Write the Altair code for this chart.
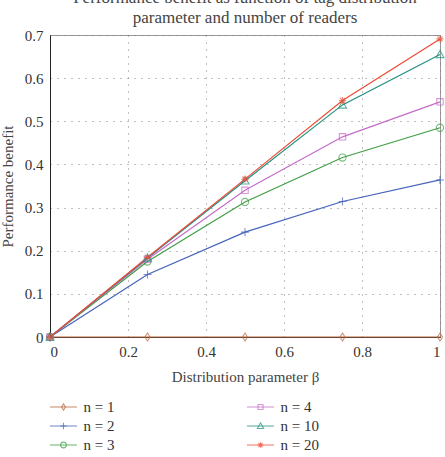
import altair as alt
import pandas as pd

# Distribution parameter values and performance benefit per number of readers
beta = [0.0, 0.25, 0.5, 0.75, 1.0]
benefit_n1 = [0.0, 0.0, 0.0, 0.0, 0.0]
benefit_n2 = [0.0, 0.145, 0.243, 0.314, 0.364]
benefit_n3 = [0.0, 0.175, 0.313, 0.416, 0.485]
benefit_n4 = [0.0, 0.180, 0.340, 0.464, 0.545]
benefit_n10 = [0.0, 0.183, 0.362, 0.538, 0.655]
benefit_n20 = [0.0, 0.185, 0.366, 0.548, 0.691]

series_labels = ["n = 1", "n = 2", "n = 3", "n = 4", "n = 10", "n = 20"]
series_values = [benefit_n1, benefit_n2, benefit_n3, benefit_n4, benefit_n10, benefit_n20]
x_ticks = [0, 0.2, 0.4, 0.6, 0.8, 1.0]
y_ticks = [0, 0.1, 0.2, 0.3, 0.4, 0.5, 0.6, 0.7]

rows = []
for label, values in zip(series_labels, series_values):
    for b, v in zip(beta, values):
        rows.append({"beta": b, "benefit": v, "series": label})
df = pd.DataFrame(rows)

# legend entries: three per column
legend_df = pd.DataFrame({
    "series": series_labels,
    "col": [i // 3 for i in range(len(series_labels))],
    "row": [i % 3 for i in range(len(series_labels))],
})

colors = ["#b8693f", "#4463bd", "#3f9e45", "#c46cc8", "#22907f", "#ee4a36"]

# marker outlines in unit coordinates
diamond = "M0,-1L0.62,0L0,1L-0.62,0Z"
plus = "M-1,0L1,0M0,-1L0,1"
circle = "M-0.9,0A0.9,0.9 0 1,0 0.9,0A0.9,0.9 0 1,0 -0.9,0Z"
square = "M-0.8,-0.8H0.8V0.8H-0.8Z"
triangle = "M0,-1L1,0.8H-1Z"
star = "M-0.9,0H0.9M0,-0.9V0.9M-0.65,-0.65L0.65,0.65M-0.65,0.65L0.65,-0.65"
markers = [diamond, plus, circle, square, triangle, star]

FONT = "Liberation Serif, DejaVu Serif, serif"

color_scale = alt.Scale(domain=series_labels, range=colors)
shape_scale = alt.Scale(domain=series_labels, range=markers)

lines = alt.Chart(df).mark_line(strokeWidth=1.2, clip=False).encode(
    x=alt.X("beta:Q", scale=alt.Scale(domain=[0, 1], nice=False),
            axis=alt.Axis(title="Distribution parameter β", values=x_ticks,
                          format="~g", grid=True)),
    y=alt.Y("benefit:Q", scale=alt.Scale(domain=[0, 0.7], nice=False),
            axis=alt.Axis(title="Performance benefit", values=y_ticks,
                          format="~g", grid=True)),
    color=alt.Color("series:N", scale=color_scale, legend=None),
    detail="series:N",
    order=alt.Order("beta:Q"),
)

points = alt.Chart(df).mark_point(filled=False, size=64, strokeWidth=1.1, clip=False).encode(
    x="beta:Q",
    y="benefit:Q",
    color=alt.Color("series:N", scale=color_scale, legend=None),
    shape=alt.Shape("series:N", scale=shape_scale, legend=None),
)

plot = alt.layer(lines, points)

# legend block below the plot, placed through its own column/row scales
leg_x = alt.X("col:Q", scale=alt.Scale(domain=[0, 1], range=[13.5, 210.5]), axis=None)
leg_y = alt.Y("row:Q", scale=alt.Scale(domain=[0, 2], range=[372, 410]), axis=None)

leg_lines = alt.Chart(legend_df).mark_point(
    shape="M-1,0H1", size=729, strokeWidth=1.1, filled=False
).encode(x=leg_x, y=leg_y, color=alt.Color("series:N", scale=color_scale, legend=None))

leg_marks = alt.Chart(legend_df).mark_point(
    size=40, strokeWidth=1.1, filled=False
).encode(
    x=leg_x, y=leg_y,
    color=alt.Color("series:N", scale=color_scale, legend=None),
    shape=alt.Shape("series:N", scale=shape_scale, legend=None),
)

leg_text = alt.Chart(legend_df).mark_text(
    align="left", baseline="middle", dx=20, font=FONT, fontSize=15, color="#333333"
).encode(x=leg_x, y=leg_y, text="series:N")

legend_block = alt.layer(leg_lines, leg_marks, leg_text)

chart = alt.layer(plot, legend_block).resolve_scale(
    x="independent", y="independent"
).properties(
    width=390, height=302,
    padding={"left": 50, "top": 35, "right": 5, "bottom": 120},
    autosize=alt.AutoSizeParams(type="none"),
    title=alt.Title(
        ["Performance benefit as function of tag distribution",
         "parameter and number of readers"],
        font=FONT, fontSize=17, fontWeight="normal", color="#444444",
        lineHeight=20, offset=1, anchor="middle",
    ),
).configure_view(
    stroke="#999999", strokeWidth=1,
).configure_axis(
    labelFont=FONT, titleFont=FONT, labelFontSize=15, titleFontSize=15,
    labelColor="#333333", titleColor="#444444", titleFontWeight="normal",
    domainColor="#222222", ticks=False,
    gridColor="#777777", gridDash=[1, 6], gridWidth=1, gridOpacity=0.9,
    labelPadding=7,
).configure_axisY(
    titlePadding=9,
).configure_axisX(
    titlePadding=10,
)

chart.save("out.html", embed_options={"renderer": "svg", "actions": False})
